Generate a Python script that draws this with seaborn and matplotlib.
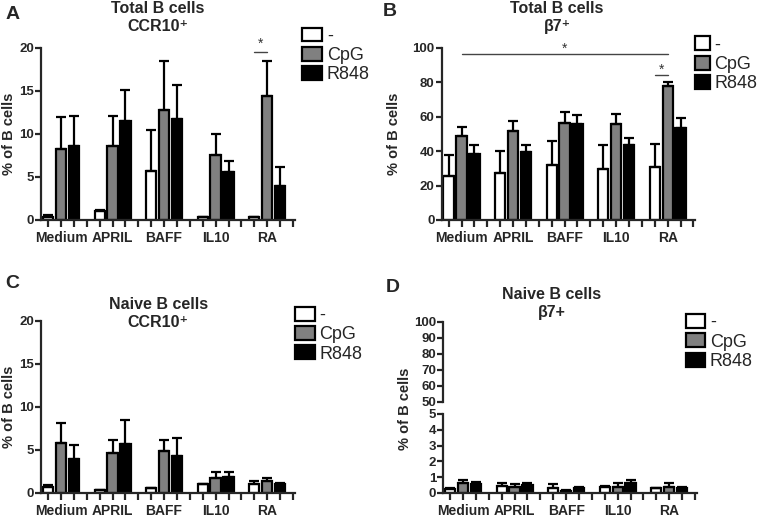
import matplotlib
matplotlib.use('Agg')
import matplotlib.pyplot as plt
from matplotlib.patches import Patch
import numpy as np
import pandas as pd
import seaborn as sns

groups = ['Medium', 'APRIL', 'BAFF', 'IL10', 'RA']
stims = ['-', 'CpG', 'R848']
palette = {'-': 'white', 'CpG': '#808080', 'R848': 'black'}

# A: total B cells CCR10+
a_none = [0.4, 1.0, 5.7, 0.35, 0.3]
a_none_sd = [0.15, 0.2, 4.8, 0.05, 0.05]
a_cpg = [8.3, 8.6, 12.8, 7.5, 14.4]
a_cpg_sd = [3.7, 3.5, 5.7, 2.5, 4.1]
a_r848 = [8.6, 11.5, 11.7, 5.6, 3.9]
a_r848_sd = [3.5, 3.6, 4.0, 1.2, 2.2]

# B: total B cells b7+
b_none = [25.5, 27.5, 31.8, 29.6, 30.8]
b_none_sd = [12.0, 12.3, 14.1, 14.1, 13.3]
b_cpg = [49.0, 51.8, 56.5, 55.5, 78.0]
b_cpg_sd = [5.0, 5.8, 6.2, 6.3, 2.4]
b_r848 = [38.4, 39.2, 55.7, 43.7, 53.7]
b_r848_sd = [5.3, 4.5, 5.1, 4.1, 5.5]

# C: naive B cells CCR10+
c_none = [0.75, 0.35, 0.55, 1.0, 1.0]
c_none_sd = [0.15, 0.05, 0.05, 0.05, 0.35]
c_cpg = [5.75, 4.7, 4.9, 1.7, 1.4]
c_cpg_sd = [2.4, 1.5, 1.3, 0.7, 0.3]
c_r848 = [3.9, 5.7, 4.3, 1.8, 1.0]
c_r848_sd = [1.7, 2.8, 2.1, 0.6, 0.2]

# D: naive B cells b7+
d_none = [0.25, 0.45, 0.3, 0.35, 0.3]
d_none_sd = [0.05, 0.15, 0.25, 0.1, 0.02]
d_cpg = [0.65, 0.35, 0.15, 0.4, 0.35]
d_cpg_sd = [0.2, 0.2, 0.03, 0.2, 0.25]
d_r848 = [0.55, 0.5, 0.3, 0.65, 0.3]
d_r848_sd = [0.15, 0.1, 0.05, 0.2, 0.08]

sns.set_style('ticks')
plt.rcParams['font.family'] = ['Liberation Sans', 'DejaVu Sans']
plt.rcParams['font.weight'] = 'bold'
plt.rcParams['axes.labelweight'] = 'bold'
plt.rcParams['axes.linewidth'] = 1.6

LW = 1.6


def make_df(none, cpg, r848, none_sd, cpg_sd, r848_sd):
    rows = []
    for j, (vals, sds) in enumerate([(none, none_sd), (cpg, cpg_sd), (r848, r848_sd)]):
        for g in range(len(groups)):
            rows.append({'pos': g * 4 + j, 'stim': stims[j], 'value': vals[g], 'sd': sds[g]})
    return pd.DataFrame(rows)


def draw_bars(ax, df):
    sns.barplot(data=df, x='pos', y='value', hue='stim', hue_order=stims,
                palette=palette, native_scale=True, dodge=False, errorbar=None,
                edgecolor='black', linewidth=LW, width=0.8, legend=False, ax=ax)
    ax.errorbar(df['pos'], df['value'], yerr=[np.zeros(len(df)), df['sd']],
                fmt='none', ecolor='black', elinewidth=LW, capsize=3.5,
                capthick=LW, zorder=1)


def style_x(ax):
    labels = [''] * 20
    for g, name in enumerate(groups):
        labels[g * 4 + 1] = name
    ax.set_xticks(range(20), labels=labels)
    ax.set_xlim(-0.55, 19.15)
    ax.tick_params(axis='x', length=5, width=LW, labelsize=10, pad=3)
    ax.set_xlabel('')


def style_y(ax, ticks, lim):
    ax.set_ylim(*lim)
    ax.set_yticks(ticks)
    ax.tick_params(axis='y', length=4, width=LW, labelsize=9.5, pad=1)
    ax.set_ylabel('')
    sns.despine(ax=ax)


def add_legend(ax, x, y, hl=1.15):
    handles = [Patch(facecolor=palette[s], edgecolor='black', linewidth=LW) for s in stims]
    leg = ax.legend(handles, stims, loc='upper left', bbox_to_anchor=(x, y),
                    bbox_transform=fig.transFigure, frameon=False,
                    handlelength=hl, handleheight=0.8, labelspacing=0.12,
                    handletextpad=0.25, borderaxespad=0, borderpad=0,
                    prop={'size': 13, 'weight': 'normal'})
    return leg


def sig(ax, x0, x1, y, ystar):
    ax.plot([x0, x1], [y, y], color='#444444', lw=1.0, clip_on=False)
    ax.text((x0 + x1) / 2, ystar, '*', ha='center', va='center', fontsize=10,
            fontweight='normal', color='#333333')


fig = plt.figure(figsize=(7.6, 5.2), dpi=100)

# panel A
ax_a = fig.add_axes([0.054, 0.577, 0.334, 0.331])
draw_bars(ax_a, make_df(a_none, a_cpg, a_r848, a_none_sd, a_cpg_sd, a_r848_sd))
style_x(ax_a)
style_y(ax_a, [0, 5, 10, 15, 20], (0, 20))
ax_a.set_ylabel('% of B cells', fontsize=10.5)
ax_a.yaxis.set_label_coords(-0.1, 0.5)
sig(ax_a, 16, 17, 19.5, 20.5)
add_legend(ax_a, 0.397, 0.947)

# panel B
ax_b = fig.add_axes([0.581, 0.577, 0.334, 0.331])
draw_bars(ax_b, make_df(b_none, b_cpg, b_r848, b_none_sd, b_cpg_sd, b_r848_sd))
style_x(ax_b)
style_y(ax_b, [0, 20, 40, 60, 80, 100], (0, 100))
ax_b.set_ylabel('% of B cells', fontsize=10.5)
ax_b.yaxis.set_label_coords(-0.158, 0.5)
sig(ax_b, 1, 17, 96.7, 99.5)
sig(ax_b, 16, 17, 84.3, 87.5)
add_legend(ax_b, 0.914, 0.93, hl=0.85)

# panel C
ax_c = fig.add_axes([0.054, 0.052, 0.334, 0.331])
draw_bars(ax_c, make_df(c_none, c_cpg, c_r848, c_none_sd, c_cpg_sd, c_r848_sd))
style_x(ax_c)
style_y(ax_c, [0, 5, 10, 15, 20], (0, 20))
ax_c.set_ylabel('% of B cells', fontsize=10.5)
ax_c.yaxis.set_label_coords(-0.1, 0.5)
add_legend(ax_c, 0.388, 0.41, hl=1.1)

# panel D: broken axis
ax_d = fig.add_axes([0.583, 0.052, 0.334, 0.152])
draw_bars(ax_d, make_df(d_none, d_cpg, d_r848, d_none_sd, d_cpg_sd, d_r848_sd))
style_x(ax_d)
style_y(ax_d, [0, 1, 2, 3, 4, 5], (0, 5))
ax_d_top = fig.add_axes([0.583, 0.227, 0.334, 0.154])
style_y(ax_d_top, [50, 60, 70, 80, 90, 100], (50, 100))
ax_d_top.set_xlim(-0.55, 19.15)
ax_d_top.spines['bottom'].set_visible(False)
ax_d_top.set_xticks([])
ax_d_top.patch.set_alpha(0)
fig.text(0.533, 0.213, '% of B cells', rotation=90, ha='center', va='center', fontsize=10.5)
add_legend(ax_d, 0.903, 0.396, hl=1.05)

# titles and panel letters
fig.text(0.208, 0.966, 'Total B cells\nCCR10\u207a', ha='center', va='center', fontsize=11.5, linespacing=1.25)
fig.text(0.733, 0.966, 'Total B cells\n\u03b27\u207a', ha='center', va='center', fontsize=11.5, linespacing=1.25)
fig.text(0.208, 0.398, 'Naive B cells\nCCR10\u207a', ha='center', va='center', fontsize=11.5, linespacing=1.25)
fig.text(0.726, 0.417, 'Naive B cells\n\u03b27+', ha='center', va='center', fontsize=11.5, linespacing=1.25)

for letter, x, y in [('A', 0.007, 0.972), ('B', 0.503, 0.978), ('C', 0.007, 0.455), ('D', 0.507, 0.447)]:
    fig.text(x, y, letter, ha='left', va='center', fontsize=14)

fig.savefig('out.png', dpi=100)
